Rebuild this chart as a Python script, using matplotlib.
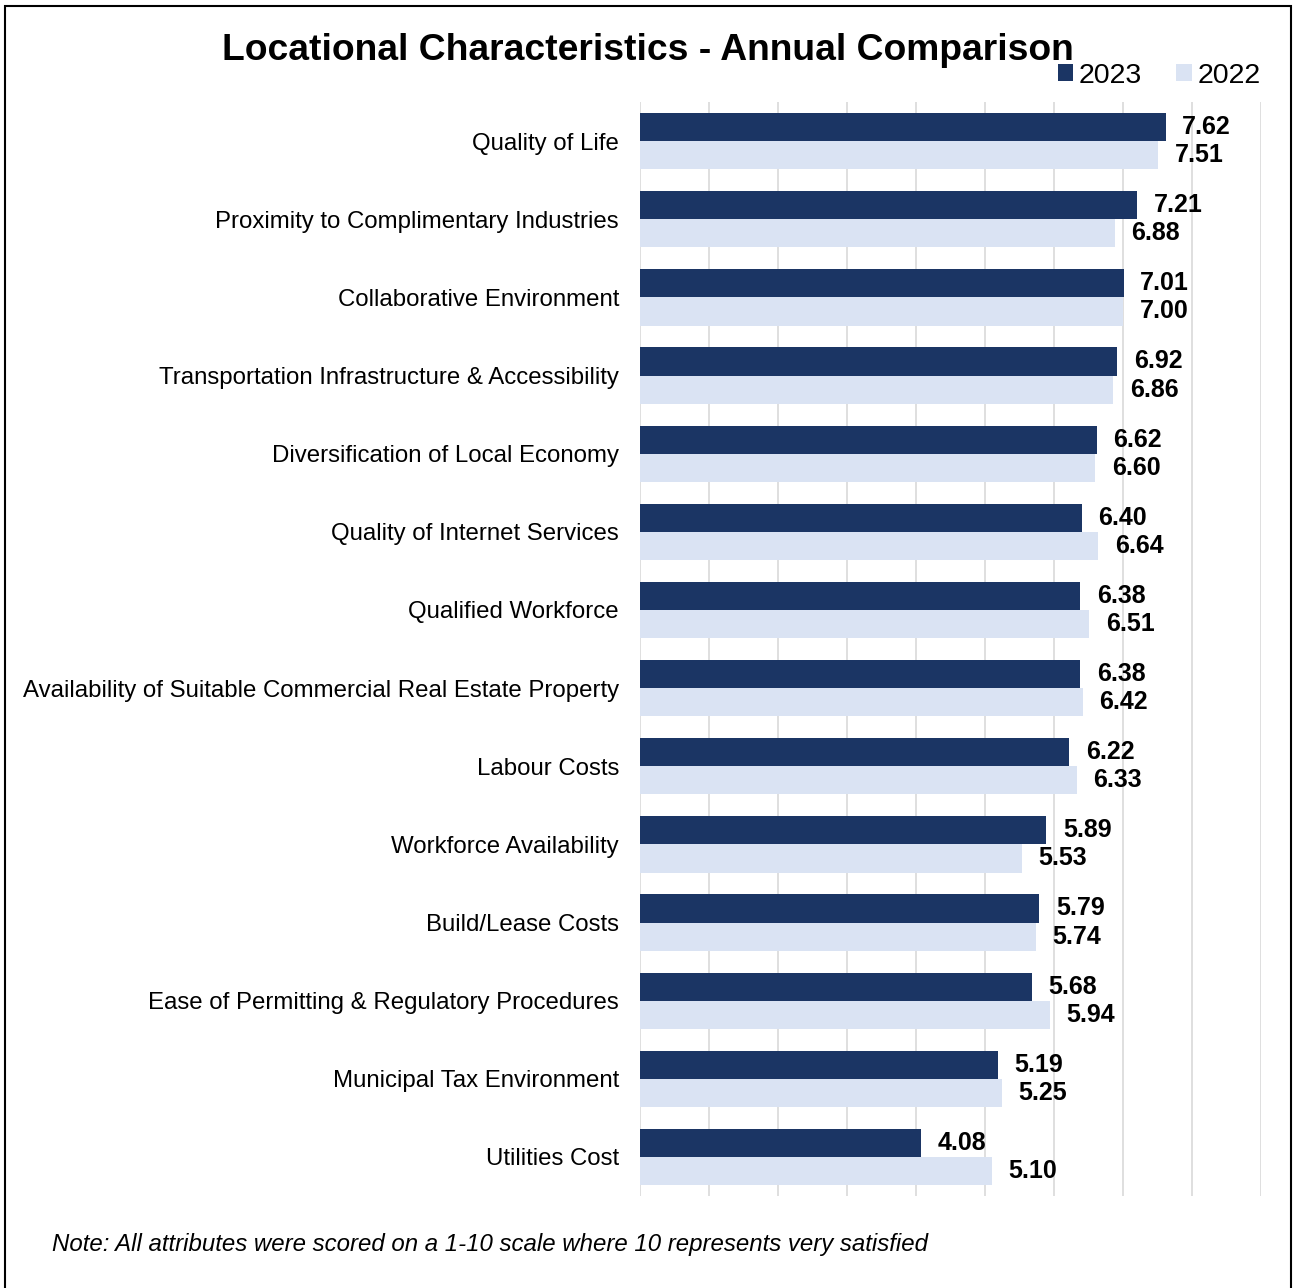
import matplotlib.pyplot as plt
from matplotlib.patches import Rectangle
import numpy as np

plt.rcParams['font.family'] = ['Liberation Sans', 'DejaVu Sans']

categories = [
    "Quality of Life",
    "Proximity to Complimentary Industries",
    "Collaborative Environment",
    "Transportation Infrastructure & Accessibility",
    "Diversification of Local Economy",
    "Quality of Internet Services",
    "Qualified Workforce",
    "Availability of Suitable Commercial Real Estate Property",
    "Labour Costs",
    "Workforce Availability",
    "Build/Lease Costs",
    "Ease of Permitting & Regulatory Procedures",
    "Municipal Tax Environment",
    "Utilities Cost",
]
scores_2023 = [7.62, 7.21, 7.01, 6.92, 6.62, 6.40, 6.38, 6.38, 6.22, 5.89, 5.79, 5.68, 5.19, 4.08]
scores_2022 = [7.51, 6.88, 7.00, 6.86, 6.60, 6.64, 6.51, 6.42, 6.33, 5.53, 5.74, 5.94, 5.25, 5.10]

c2023 = "#1B3564"
c2022 = "#DAE3F3"

fig = plt.figure(figsize=(12.97, 12.88), dpi=100)
ax = fig.add_axes([0.4934, 0.0714, 0.4788, 0.8494])

y = np.arange(len(categories))
h = 0.36
b1 = ax.barh(y - h / 2, scores_2023, height=h, color=c2023, label="2023", zorder=3)
b2 = ax.barh(y + h / 2, scores_2022, height=h, color=c2022, label="2022", zorder=3)

for bars, vals in ((b1, scores_2023), (b2, scores_2022)):
    for bar, v in zip(bars, vals):
        ax.text(v + 0.24, bar.get_y() + bar.get_height() / 2, f"{v:.2f}",
                va="center", ha="left", fontsize=18, fontweight="bold")

ax.set_xlim(0, 9)
ax.set_ylim(len(categories) - 0.5, -0.5)
ax.set_xticks(np.arange(0, 10, 1))
ax.set_xticklabels([])
ax.tick_params(axis="x", length=0)
ax.grid(axis="x", color="#D9D9D9", lw=1.2, zorder=0)
ax.set_yticks(y)
ax.set_yticklabels(categories, fontsize=17.3)
ax.tick_params(axis="y", length=0, pad=15)
for s in ax.spines.values():
    s.set_visible(False)

fig.text(0.4995, 0.9605, "Locational Characteristics - Annual Comparison",
         ha="center", va="center", fontsize=26.8, fontweight="bold")
ax.legend(loc="center right", bbox_to_anchor=(1.0, 1.024), ncol=2, frameon=False,
          fontsize=20.5, handlelength=0.55, handleheight=0.55, handletextpad=0.2,
          columnspacing=1.2, borderaxespad=0.0, borderpad=0.0)

fig.text(0.04, 0.034, "Note: All attributes were scored on a 1-10 scale where 10 represents very satisfied",
         ha="left", va="center", fontsize=17.3, style="italic")

fig.patches.append(Rectangle((0.004, -0.01), 0.9915, 1.0055, transform=fig.transFigure,
                             fill=False, edgecolor="black", lw=1.5))

fig.savefig("out.png", dpi=100)
